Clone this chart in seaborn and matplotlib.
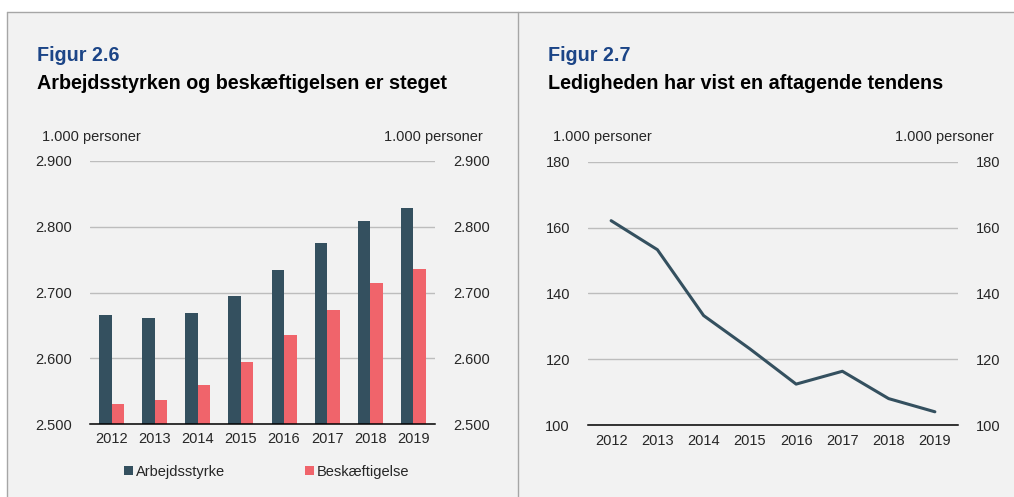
import numpy as np
import pandas as pd
import seaborn as sns
import matplotlib
matplotlib.use('Agg')
from matplotlib import pyplot as plt
from matplotlib.patches import Rectangle, Patch
from matplotlib.lines import Line2D

years = ['2012', '2013', '2014', '2015', '2016', '2017', '2018', '2019']
arbejdsstyrke = [2666, 2661, 2669, 2694, 2734, 2776, 2809, 2829]
beskaeftigelse = [2531, 2537, 2559, 2594, 2635, 2673, 2714, 2735]
ledighed = [162.1, 153.3, 133.3, 123.2, 112.5, 116.4, 108.1, 104.1]

DARK = '#34505f'
RED = '#f0646b'
BLUE = '#1c4587'
BG = '#f2f2f2'
GRID = '#bdbdbd'

sns.set_style('white')
plt.rcParams['font.family'] = ['Liberation Sans', 'DejaVu Sans']
plt.rcParams['font.size'] = 10.5

W, H = 1014, 497
fig = plt.figure(figsize=(W / 100, H / 100), dpi=100)
fig.patch.set_facecolor('white')

def fx(px):
    return px / W

def fy(py):
    return 1 - py / H

# panel background and frame lines
fig.add_artist(Rectangle((fx(7), 0), 1 - fx(7), fy(11.5), transform=fig.transFigure,
                         facecolor=BG, edgecolor='none', zorder=-10))
fig.add_artist(Line2D([fx(7), 1], [fy(11.5), fy(11.5)], transform=fig.transFigure,
                      color='#a6a6a6', lw=1))
fig.add_artist(Line2D([fx(7), fx(7)], [0, fy(11.5)], transform=fig.transFigure,
                      color='#a6a6a6', lw=1))
fig.add_artist(Line2D([fx(517.5), fx(517.5)], [0, fy(11.5)], transform=fig.transFigure,
                      color='#a6a6a6', lw=1))

# titles
fig.text(fx(37), fy(61.3), 'Figur 2.6', color=BLUE, fontsize=14.2, fontweight='bold', va='baseline')
fig.text(fx(37), fy(89.3), 'Arbejdsstyrken og beskæftigelsen er steget', color='black',
         fontsize=14.2, fontweight='bold', va='baseline')
fig.text(fx(548), fy(61.3), 'Figur 2.7', color=BLUE, fontsize=14.2, fontweight='bold', va='baseline')
fig.text(fx(548), fy(89.3), 'Ledigheden har vist en aftagende tendens', color='black',
         fontsize=14.2, fontweight='bold', va='baseline')

# unit labels
fig.text(fx(42), fy(141.3), '1.000 personer', va='baseline', ha='left')
fig.text(fx(483), fy(141.3), '1.000 personer', va='baseline', ha='right')
fig.text(fx(553), fy(141.3), '1.000 personer', va='baseline', ha='left')
fig.text(fx(994), fy(141.3), '1.000 personer', va='baseline', ha='right')


def style_axis(ax, yticks, fmt):
    ax.set_facecolor(BG)
    for s in ['top', 'left', 'right']:
        ax.spines[s].set_visible(False)
    ax.spines['bottom'].set_color('black')
    ax.spines['bottom'].set_linewidth(1.1)
    ax.set_yticks(yticks)
    ax.set_yticklabels([fmt(v) for v in yticks])
    ax.yaxis.grid(True, color=GRID, lw=1)
    ax.set_axisbelow(True)
    ax.tick_params(axis='y', length=0, pad=13, labelleft=True, labelright=True)
    ax.set_xlim(-0.5, 7.5)
    ax.set_xticks(range(len(years)))
    ax.set_xticklabels(years)
    ax.tick_params(axis='x', which='major', length=0, pad=6)
    ax.set_xticks(np.arange(-0.5, 8, 1), minor=True)
    ax.tick_params(axis='x', which='minor', length=5, width=1, color='black', direction='out')
    ax.set_xlabel('')
    ax.set_ylabel('')


# Figur 2.6 - bars
ax1 = fig.add_axes([fx(90), fy(424), fx(345), 263 / H])
df = pd.DataFrame({
    'year': years * 2,
    'value': arbejdsstyrke + beskaeftigelse,
    'serie': ['Arbejdsstyrke'] * 8 + ['Beskæftigelse'] * 8,
})
sns.barplot(data=df, x='year', y='value', hue='serie', palette=[DARK, RED],
            width=0.58, gap=0, saturation=1, ax=ax1, legend=False, edgecolor='none')
ax1.set_ylim(2500, 2900)
style_axis(ax1, [2500, 2600, 2700, 2800, 2900], lambda v: f'{v/1000:.3f}')

handles = [Patch(facecolor=DARK, edgecolor='none'), Patch(facecolor=RED, edgecolor='none')]
fig.legend(handles, ['Arbejdsstyrke', 'Beskæftigelse'], loc='center left',
           bbox_to_anchor=(fx(117), fy(471.7)), ncol=2, frameon=False, borderpad=0,
           handlelength=0.6, handleheight=0.6, handletextpad=0.2, columnspacing=5.5,
           fontsize=10.5)

# Figur 2.7 - line
ax2 = fig.add_axes([fx(588), fy(425.3), fx(370), 263.6 / H])
ldf = pd.DataFrame({'year': range(len(years)), 'ledighed': ledighed})
sns.lineplot(data=ldf, x='year', y='ledighed', color=DARK, lw=2.2, ax=ax2)
ax2.set_ylim(100, 180)
style_axis(ax2, [100, 120, 140, 160, 180], lambda v: f'{v}')

fig.savefig('out.png', dpi=100, facecolor=fig.get_facecolor())
